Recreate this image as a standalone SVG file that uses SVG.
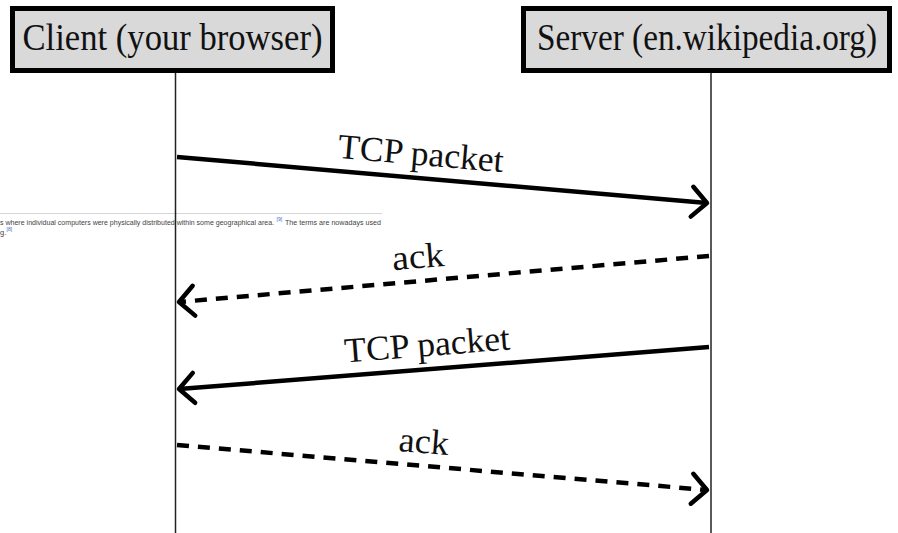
<svg xmlns="http://www.w3.org/2000/svg" width="898" height="533" viewBox="0 0 898 533">
  <style>
    .box { fill: #d9d9d9; stroke: #000; stroke-width: 5; }
    .title { font-family: "Liberation Serif", "DejaVu Serif", serif; font-size: 37px; fill: #111; text-anchor: middle; }
    .lifeline { stroke: #222; stroke-width: 1.5; }
    .msg { stroke: #000; stroke-width: 4.5; fill: none; }
    .dashed { stroke-dasharray: 12 9; }
    .label { font-family: "Liberation Serif", "DejaVu Serif", serif; font-size: 35px; fill: #111; text-anchor: middle; }
    .page { font-family: "Liberation Sans", Arial, sans-serif; font-size: 7.5px; fill: #444; }
    .ref { font-family: "Liberation Sans", Arial, sans-serif; font-size: 5px; fill: #3366cc; }
  </style>
  <defs>
    <marker id="head" viewBox="-20 -20 24 40" refX="0" refY="0" markerWidth="24" markerHeight="40" markerUnits="userSpaceOnUse" orient="auto" overflow="visible">
      <path d="M-15,-15 L0,0 L-15,15" fill="none" stroke="#000" stroke-width="4.5" stroke-linecap="round" stroke-linejoin="round"/>
    </marker>
  </defs>

  <rect width="898" height="533" fill="#fff"/>

  <!-- page text behind the diagram -->
  <g id="page-text">
    <line x1="0" y1="213.5" x2="382" y2="213.5" stroke="#d4d6d9" stroke-width="1"/>
    <text class="page" x="0" y="225" textLength="274" lengthAdjust="spacingAndGlyphs">s where individual computers were physically distributed within some geographical area.</text>
    <text class="ref" x="276.5" y="220.5">[9]</text>
    <text class="page" x="285" y="225" textLength="96" lengthAdjust="spacingAndGlyphs">The terms are nowadays used</text>
    <text class="page" x="0" y="234.5">g.</text>
    <text class="ref" x="6.5" y="231">[8]</text>
  </g>

  <!-- lifelines -->
  <g id="lifelines">
    <line class="lifeline" x1="175.5" y1="73" x2="175.5" y2="533"/>
    <line class="lifeline" x1="711" y1="73" x2="711" y2="533"/>
  </g>

  <g id="client">
    <rect class="box" x="12.5" y="8.5" width="320" height="62"/>
    <text class="title" x="172.5" y="50" textLength="300" lengthAdjust="spacingAndGlyphs">Client (your browser)</text>
  </g>

  <g id="server">
    <rect class="box" x="523.5" y="8.5" width="366" height="62"/>
    <text class="title" x="707" y="50" textLength="340" lengthAdjust="spacingAndGlyphs">Server (en.wikipedia.org)</text>
  </g>

  <!-- messages -->
  <g id="connectors">
    <line class="msg" x1="177" y1="157" x2="707" y2="203" marker-end="url(#head)"/>
    <line class="msg dashed" x1="709" y1="256" x2="179" y2="302" marker-end="url(#head)"/>
    <line class="msg" x1="709" y1="347" x2="179" y2="389" marker-end="url(#head)"/>
    <line class="msg dashed" x1="177" y1="445" x2="707" y2="490" marker-end="url(#head)"/>
  </g>

  <g id="labels">
    <text class="label" x="420" y="165" textLength="166" lengthAdjust="spacingAndGlyphs" transform="rotate(4.95 420 165)">TCP packet</text>
    <text class="label" x="419" y="268" textLength="52" lengthAdjust="spacingAndGlyphs" transform="rotate(-4.9 419 268)">ack</text>
    <text class="label" x="428" y="356" textLength="166" lengthAdjust="spacingAndGlyphs" transform="rotate(-4.55 428 356)">TCP packet</text>
    <text class="label" x="423" y="453" textLength="50" lengthAdjust="spacingAndGlyphs" transform="rotate(4.85 423 453)">ack</text>
  </g>
</svg>
